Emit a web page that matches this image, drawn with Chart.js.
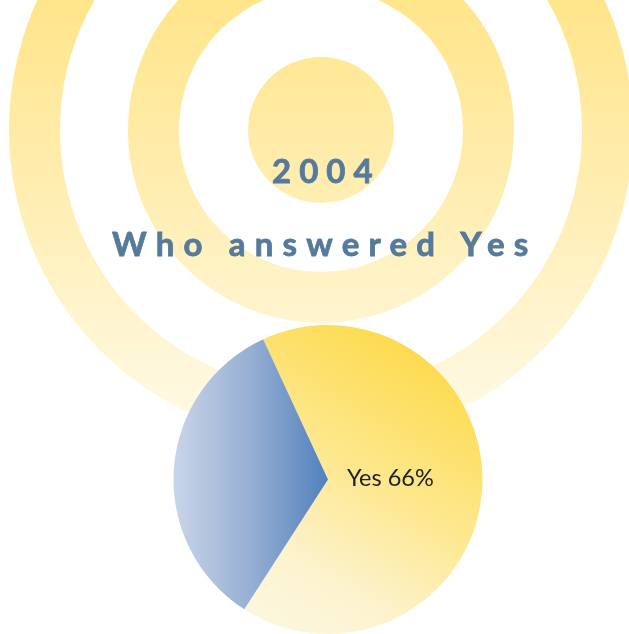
<!DOCTYPE html>
<html>
<head>
<meta charset="utf-8">
<script src="https://cdn.jsdelivr.net/npm/chart.js@4/dist/chart.umd.min.js"></script>
<style>
  html, body { margin: 0; padding: 0; background: #ffffff; overflow: hidden; }
  #wrap { position: relative; width: 629px; height: 634px; }
  #c { position: absolute; left: 0; top: 0; }
  .t { position: absolute; font-family: Lato, "Open Sans", sans-serif; font-weight: 700; color: #557a9c; white-space: nowrap; -webkit-text-stroke: 0.8px #557a9c; }
  #year { left: 272px; top: 150px; font-size: 33px; letter-spacing: 8px; line-height: 40px; }
  #title { left: 112px; top: 223px; font-size: 33px; letter-spacing: 9.2px; line-height: 40px; }
</style>
</head>
<body>
<div id="wrap">
  <canvas id="c" width="629" height="634"></canvas>
  <div class="t" id="year">2004</div>
  <div class="t" id="title">Who answered Yes</div>
</div>
<script>
const categories = ["Yes", "No"];
const values = [66, 34];
const shownLabels = ["Yes 66%"];

const ringsPlugin = {
  id: 'rings',
  beforeDraw(chart) {
    const ctx = chart.ctx;
    const cx = 321, cy = 130;
    const g = ctx.createLinearGradient(0, 0, 0, 445);
    g.addColorStop(0, '#ffe58a');
    g.addColorStop(0.5, '#ffefb8');
    g.addColorStop(1, '#fffbec');
    ctx.save();
    ctx.fillStyle = g;
    ctx.beginPath();
    ctx.arc(cx, cy, 73, 0, Math.PI * 2);
    ctx.fill();
    ctx.beginPath();
    ctx.arc(cx, cy, 193, 0, Math.PI * 2);
    ctx.arc(cx, cy, 142, 0, Math.PI * 2, true);
    ctx.fill();
    ctx.beginPath();
    ctx.arc(cx, cy, 312, 0, Math.PI * 2);
    ctx.arc(cx, cy, 261, 0, Math.PI * 2, true);
    ctx.fill();
    ctx.restore();
  }
};

const labelPlugin = {
  id: 'sliceLabel',
  afterDatasetsDraw(chart) {
    const arc = chart.getDatasetMeta(0).data[0];
    if (!arc) return;
    const ctx = chart.ctx;
    ctx.save();
    ctx.font = '23.5px Lato, "Open Sans", sans-serif';
    ctx.fillStyle = '#222222';
    ctx.textBaseline = 'alphabetic';
    ctx.textAlign = 'left';
    ctx.fillText(shownLabels[0], arc.x + 19, arc.y + 6);
    ctx.restore();
  }
};

function sliceFill(context) {
  const chart = context.chart;
  const ctx = chart.ctx;
  const area = chart.chartArea;
  if (!area) return '#fde27a';
  const x0 = area.left, x1 = area.right, y0 = area.top, y1 = area.bottom;
  const cx = (x0 + x1) / 2;
  if (context.dataIndex === 1) {
    const g = ctx.createLinearGradient(x0, 0, cx, 0);
    g.addColorStop(0, '#cad5e9');
    g.addColorStop(0.5, '#97afd3');
    g.addColorStop(1, '#5181bc');
    return g;
  }
  const g = ctx.createLinearGradient(x1 - 30, y0 + 40, x0 + 120, y1);
  g.addColorStop(0, '#fdda4c');
  g.addColorStop(0.45, '#fde88f');
  g.addColorStop(0.8, '#fcf3cf');
  g.addColorStop(1, '#fcf6dc');
  return g;
}

new Chart(document.getElementById('c'), {
  type: 'pie',
  data: {
    labels: categories,
    datasets: [{
      data: values,
      backgroundColor: sliceFill,
      borderWidth: 0,
      hoverOffset: 0
    }]
  },
  options: {
    responsive: false,
    animation: false,
    rotation: -24.8,
    layout: { padding: { left: 173, right: 146, top: 325, bottom: 0 } },
    plugins: {
      legend: { display: false },
      tooltip: { enabled: false },
      title: { display: false }
    },
    events: []
  },
  plugins: [ringsPlugin, labelPlugin]
});
</script>
</body>
</html>
